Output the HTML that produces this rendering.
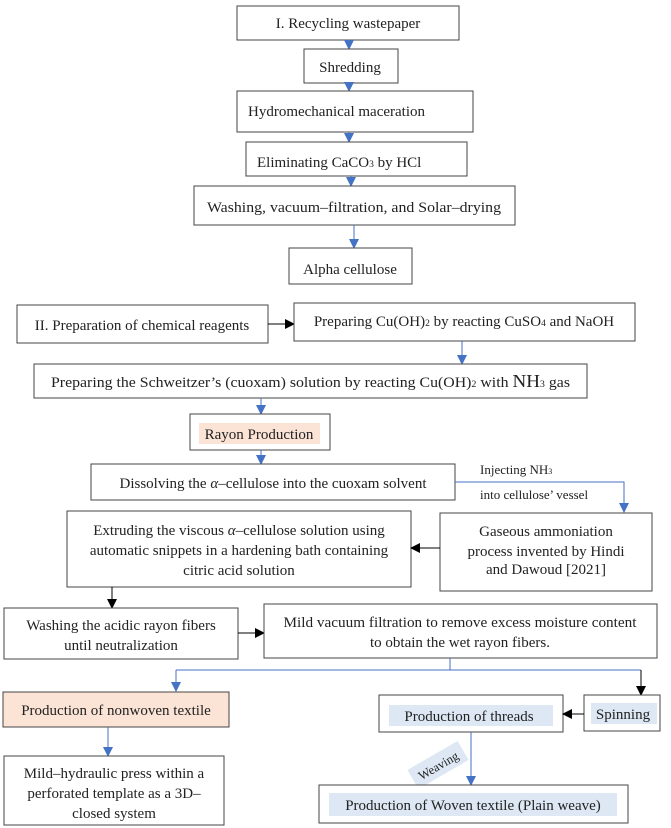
<!DOCTYPE html>
<html><head><meta charset="utf-8"><style>
html,body{margin:0;padding:0;background:#fff;font-family:"Liberation Serif",serif;}
svg{display:block;}
text{font-family:"Liberation Serif",serif;font-size:15px;fill:#222;}
rect.b{fill:#fff;stroke:#444;stroke-width:1;}
line.bl{stroke:#4472c4;stroke-width:1;}
line.k{stroke:#000;stroke-width:1;}
</style></head><body>
<svg width="671" height="828" viewBox="0 0 671 828" xmlns="http://www.w3.org/2000/svg">
<defs>
<marker id="ab" markerWidth="10" markerHeight="10" refX="9" refY="5" orient="auto" markerUnits="userSpaceOnUse"><path d="M0,0 L10,5 L0,10 z" fill="#4472c4"/></marker>
<marker id="ak" markerWidth="10" markerHeight="10" refX="9" refY="5" orient="auto" markerUnits="userSpaceOnUse"><path d="M0,0 L10,5 L0,10 z" fill="#000"/></marker>
</defs>
<rect class="b" x="237" y="6" width="222" height="34"/>
<text x="348" y="28" text-anchor="middle">I. Recycling wastepaper</text>
<line class="bl" x1="349" y1="40" x2="349" y2="49" marker-end="url(#ab)"/>
<rect class="b" x="304" y="49" width="94" height="34"/>
<text x="350" y="72" text-anchor="middle">Shredding</text>
<line class="bl" x1="349" y1="83" x2="349" y2="91" marker-end="url(#ab)"/>
<rect class="b" x="237" y="91" width="236" height="41"/>
<text x="248" y="116">Hydromechanical maceration</text>
<line class="bl" x1="349" y1="132" x2="349" y2="142" marker-end="url(#ab)"/>
<rect class="b" x="246" y="142" width="221" height="34"/>
<text x="257" y="167">Eliminating CaCO<tspan style="font-size:9.5px">3</tspan> by HCl</text>
<line class="bl" x1="351" y1="176" x2="351" y2="186" marker-end="url(#ab)"/>
<rect class="b" x="194" y="186" width="321" height="39"/>
<text x="354" y="212" text-anchor="middle" textLength="294" lengthAdjust="spacingAndGlyphs">Washing, vacuum–filtration, and Solar–drying</text>
<line class="bl" x1="354" y1="225" x2="354" y2="248" marker-end="url(#ab)"/>
<rect class="b" x="289" y="248" width="123" height="36"/>
<text x="350" y="274" text-anchor="middle">Alpha cellulose</text>
<rect class="b" x="17" y="305" width="251" height="38"/>
<text x="142" y="330" text-anchor="middle">II. Preparation of chemical reagents</text>
<line class="k" x1="268" y1="324" x2="294" y2="324" marker-end="url(#ak)"/>
<rect class="b" x="294" y="303" width="341" height="38"/>
<text x="464" y="326" text-anchor="middle">Preparing Cu(OH)<tspan style="font-size:9.5px">2</tspan> by reacting CuSO<tspan style="font-size:9.5px">4</tspan> and NaOH</text>
<line class="bl" x1="462" y1="341" x2="462" y2="364" marker-end="url(#ab)"/>
<rect class="b" x="34" y="364" width="553" height="34"/>
<text x="51" y="387" textLength="519" lengthAdjust="spacingAndGlyphs">Preparing the Schweitzer’s (cuoxam) solution by reacting Cu(OH)<tspan style="font-size:9.5px">2</tspan> with <tspan style="font-size:18px">NH</tspan><tspan style="font-size:9.5px">3</tspan> gas</text>
<line class="bl" x1="261" y1="398" x2="261" y2="414" marker-end="url(#ab)"/>
<rect class="b" x="190" y="414" width="140" height="36"/>
<rect x="199" y="423" width="121" height="21" fill="#fbe3d6"/>
<text x="259" y="439" text-anchor="middle">Rayon Production</text>
<line class="bl" x1="261" y1="450" x2="261" y2="464" marker-end="url(#ab)"/>
<rect class="b" x="91" y="464" width="364" height="36"/>
<text x="273" y="488" text-anchor="middle">Dissolving the <tspan font-style="italic">α</tspan>–cellulose into the cuoxam solvent</text>
<polyline points="455,482 624,482 624,512" fill="none" stroke="#4472c4" stroke-width="1" marker-end="url(#ab)"/>
<text x="480" y="474" style="font-size:13px">Injecting NH<tspan style="font-size:8px">3</tspan></text>
<text x="480" y="499" style="font-size:13px">into cellulose’ vessel</text>
<rect class="b" x="67" y="511" width="344" height="76"/>
<text x="239" y="535" text-anchor="middle">Extruding the viscous <tspan font-style="italic">α</tspan>–cellulose solution using</text>
<text x="239" y="555" text-anchor="middle">automatic snippets in a hardening bath containing</text>
<text x="239" y="575" text-anchor="middle">citric acid solution</text>
<rect class="b" x="440" y="513" width="212" height="78"/>
<text x="546" y="536" text-anchor="middle">Gaseous ammoniation</text>
<text x="546" y="556" text-anchor="middle">process invented by Hindi</text>
<text x="546" y="574" text-anchor="middle">and Dawoud [2021]</text>
<line class="k" x1="440" y1="548" x2="411" y2="548" marker-end="url(#ak)"/>
<line class="k" x1="112" y1="587" x2="112" y2="608" marker-end="url(#ak)"/>
<rect class="b" x="4" y="608" width="234" height="51"/>
<text x="121" y="630" text-anchor="middle">Washing the acidic rayon fibers</text>
<text x="121" y="650" text-anchor="middle">until neutralization</text>
<line class="k" x1="238" y1="633" x2="264" y2="633" marker-end="url(#ak)"/>
<rect class="b" x="264" y="604" width="393" height="54"/>
<text x="460" y="627" text-anchor="middle" textLength="353" lengthAdjust="spacingAndGlyphs">Mild vacuum filtration to remove excess moisture content</text>
<text x="460" y="647" text-anchor="middle">to obtain the wet rayon fibers.</text>
<line class="bl" x1="450" y1="658" x2="450" y2="670"/>
<line class="bl" x1="176" y1="670" x2="641" y2="670"/>
<line class="bl" x1="176" y1="670" x2="176" y2="691" marker-end="url(#ab)"/>
<line class="k" x1="641" y1="670" x2="641" y2="695" marker-end="url(#ak)"/>
<rect x="3" y="692" width="226" height="35" fill="#fbe3d6" stroke="#444"/>
<text x="116" y="715" text-anchor="middle">Production of nonwoven textile</text>
<line class="bl" x1="108" y1="727" x2="108" y2="756" marker-end="url(#ab)"/>
<rect class="b" x="4" y="756" width="220" height="69"/>
<text x="114" y="778" text-anchor="middle">Mild–hydraulic press within a</text>
<text x="114" y="798" text-anchor="middle">perforated template as a 3D–</text>
<text x="114" y="818" text-anchor="middle">closed system</text>
<rect class="b" x="379" y="695" width="184" height="37"/>
<rect x="389" y="705" width="164" height="21" fill="#dde8f4"/>
<text x="469" y="721" text-anchor="middle">Production of threads</text>
<rect class="b" x="584" y="695" width="76" height="36"/>
<rect x="591" y="703" width="66" height="21" fill="#dde8f4"/>
<text x="623" y="719" text-anchor="middle">Spinning</text>
<line class="k" x1="584" y1="714" x2="563" y2="714" marker-end="url(#ak)"/>
<line class="bl" x1="471" y1="732" x2="471" y2="785" marker-end="url(#ab)"/>
<g transform="translate(438,765) rotate(-30)">
<rect x="-29" y="-11" width="58" height="22" fill="#dde8f4"/>
<text x="0" y="5" text-anchor="middle" style="font-size:12.5px">Weaving</text>
</g>
<rect class="b" x="319" y="785" width="309" height="38"/>
<rect x="329" y="793" width="288" height="23" fill="#dde8f4"/>
<text x="473" y="810" text-anchor="middle">Production of Woven textile (Plain weave)</text>
</svg>
</body></html>
